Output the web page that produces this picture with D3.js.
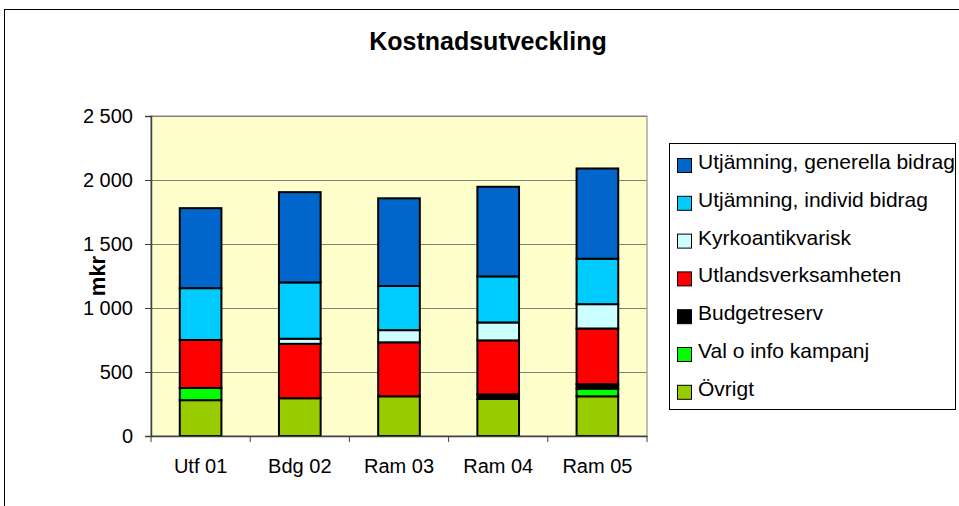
<!DOCTYPE html>
<html>
<head>
<meta charset="utf-8">
<script src="https://cdn.jsdelivr.net/npm/d3@7"></script>
<style>
  body { margin: 0; background: #fff; }
  text { font-family: "Liberation Sans", Arial, sans-serif; }
</style>
</head>
<body>
<svg id="chart" width="959" height="506"></svg>
<script>
"use strict";

// ---------------------------------------------------------------------------
// Data (mkr)
// ---------------------------------------------------------------------------

const categories = ["Utf 01", "Bdg 02", "Ram 03", "Ram 04", "Ram 05"];

// stacking order, bottom to top
const seriesNames = [
  "Övrigt",
  "Val o info kampanj",
  "Budgetreserv",
  "Utlandsverksamheten",
  "Kyrkoantikvarisk",
  "Utjämning, individ bidrag",
  "Utjämning, generella bidrag",
];

const ovrigt      = [280, 295, 310, 290, 310];
const valInfo     = [95, 0, 0, 0, 60];
const budgetres   = [0, 0, 0, 35, 35];
const utland      = [375, 425, 422, 422, 435];
const kyrko       = [0, 40, 95, 140, 190];
const individ     = [405, 440, 345, 360, 355];
const generella   = [625, 705, 685, 700, 705];

const yTicks = [0, 500, 1000, 1500, 2000, 2500];

const colors = ["#99cc00", "#00ff00", "#000000", "#ff0000", "#ccffff", "#00ccff", "#0066cc"];

// ---------------------------------------------------------------------------
// Layout
// ---------------------------------------------------------------------------

const svg = d3.select("#chart");
const plot = { left: 151, right: 647, top: 116, bottom: 436 };
const FONT = "Liberation Sans, Arial, sans-serif";

// outer chart frame
svg.append("rect")
  .attr("x", 4.5).attr("y", 9.5)
  .attr("width", 970).attr("height", 520)
  .attr("fill", "#fff")
  .attr("stroke", "#000")
  .attr("stroke-width", 1);

svg.append("text")
  .attr("x", 488).attr("y", 50)
  .attr("text-anchor", "middle")
  .attr("font-size", "25px")
  .attr("font-weight", "bold")
  .text("Kostnadsutveckling");

const x = d3.scaleBand()
  .domain(categories)
  .range([plot.left, plot.right])
  .paddingInner(0.58)
  .paddingOuter(0.29);

const y = d3.scaleLinear()
  .domain([0, 2500])
  .range([plot.bottom, plot.top]);

// plot background
svg.append("rect")
  .attr("x", plot.left).attr("y", plot.top)
  .attr("width", plot.right - plot.left)
  .attr("height", plot.bottom - plot.top)
  .attr("fill", "#ffffcc")
  .attr("stroke", "#808080")
  .attr("stroke-width", 1);

// gridlines
svg.append("g")
  .selectAll("line")
  .data(yTicks.filter((d) => d > 0))
  .join("line")
  .attr("x1", plot.left).attr("x2", plot.right)
  .attr("y1", (d) => Math.round(y(d)) + 0.5)
  .attr("y2", (d) => Math.round(y(d)) + 0.5)
  .attr("stroke", "#808080")
  .attr("stroke-width", 1);

// stacked bars
const rows = categories.map((c, i) => ({
  cat: c,
  "Övrigt": ovrigt[i],
  "Val o info kampanj": valInfo[i],
  "Budgetreserv": budgetres[i],
  "Utlandsverksamheten": utland[i],
  "Kyrkoantikvarisk": kyrko[i],
  "Utjämning, individ bidrag": individ[i],
  "Utjämning, generella bidrag": generella[i],
}));

const stacked = d3.stack().keys(seriesNames)(rows);

svg.append("g")
  .selectAll("g")
  .data(stacked)
  .join("g")
  .attr("fill", (d, i) => colors[i])
  .selectAll("rect")
  .data((d) => d.filter((p) => p[1] - p[0] > 0))
  .join("rect")
  .attr("x", (d) => x(d.data.cat))
  .attr("width", x.bandwidth())
  .attr("y", (d) => y(d[1]))
  .attr("height", (d) => y(d[0]) - y(d[1]))
  .attr("stroke", "#000")
  .attr("stroke-width", 2);

// y axis
const yAxis = d3.axisLeft(y)
  .tickValues(yTicks)
  .tickSize(6)
  .tickPadding(12)
  .tickFormat((d) => d3.format(",")(d).replace(",", " "));

svg.append("g")
  .attr("transform", `translate(${plot.left},0)`)
  .call(yAxis)
  .call((g) => g.select(".domain").attr("stroke", "#404040").attr("stroke-width", 1.5))
  .call((g) => g.selectAll(".tick line").attr("stroke", "#404040"))
  .call((g) => g.selectAll("text").attr("font-size", "20px").attr("fill", "#000")
    .attr("font-family", FONT));

// x axis
const xAxis = d3.axisBottom(x).tickSize(0).tickPadding(23);
const xg = svg.append("g")
  .attr("transform", `translate(0,${plot.bottom})`)
  .call(xAxis)
  .call((g) => g.select(".domain").attr("stroke", "#404040").attr("stroke-width", 1.5))
  .call((g) => g.selectAll("text").attr("font-size", "20px").attr("fill", "#000")
    .attr("font-family", FONT));

// tick marks between categories
xg.selectAll(".sep")
  .data(d3.range(categories.length + 1))
  .join("line")
  .attr("class", "sep")
  .attr("x1", (i) => plot.left + i * (plot.right - plot.left) / categories.length)
  .attr("x2", (i) => plot.left + i * (plot.right - plot.left) / categories.length)
  .attr("y1", 0).attr("y2", 6)
  .attr("stroke", "#404040");

svg.append("text")
  .attr("transform", `translate(105,${(plot.top + plot.bottom) / 2}) rotate(-90)`)
  .attr("text-anchor", "middle")
  .attr("font-size", "22px")
  .attr("font-weight", "bold")
  .text("mkr");

// ---------------------------------------------------------------------------
// Legend (top entry = top of stack)
// ---------------------------------------------------------------------------

const legend = svg.append("g");
legend.append("rect")
  .attr("x", 669.5).attr("y", 143.5)
  .attr("width", 286).attr("height", 266)
  .attr("fill", "#fff")
  .attr("stroke", "#000");

const legendItems = seriesNames.map((n, i) => ({ name: n, color: colors[i] })).reverse();

const item = legend.selectAll("g.item")
  .data(legendItems)
  .join("g")
  .attr("class", "item")
  .attr("transform", (d, i) => `translate(677,${169 + i * 37.8})`);

item.append("rect")
  .attr("x", 0.5).attr("y", -10.5)
  .attr("width", 14).attr("height", 14)
  .attr("fill", (d) => d.color)
  .attr("stroke", "#000");

item.append("text")
  .attr("x", 21).attr("y", 0)
  .attr("font-size", "21px")
  .text((d) => d.name);
</script>
</body>
</html>
